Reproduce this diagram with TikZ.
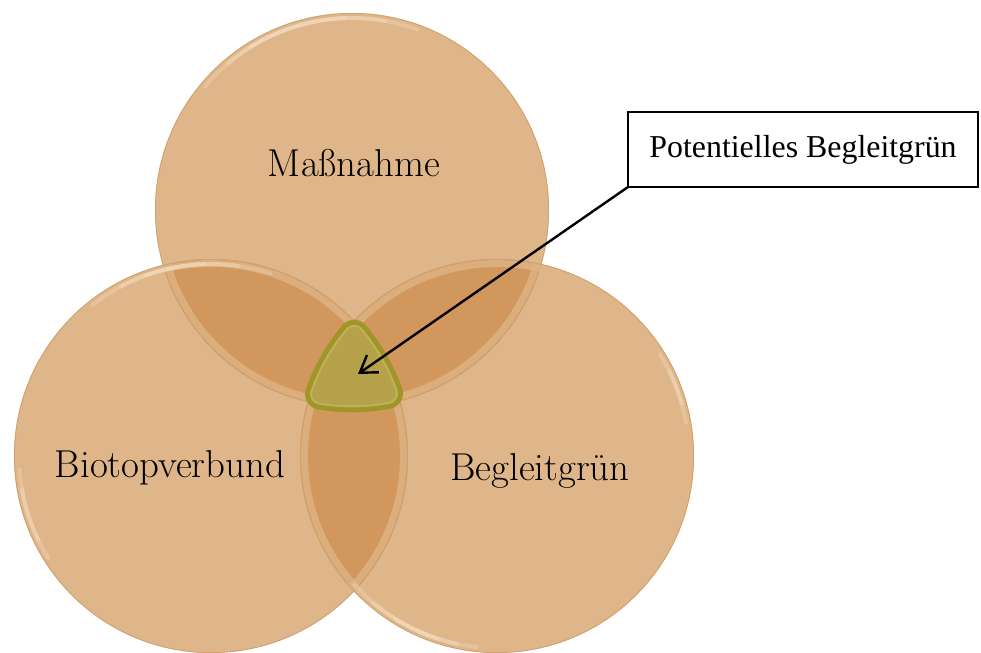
\documentclass[tikz,border=0pt]{standalone}
\usepackage{fontspec}
\newfontfamily\calloutfont{Liberation Serif}
\usetikzlibrary{arrows.meta}

\definecolor{circfill}{RGB}{223,182,138}
\definecolor{lensfill}{RGB}{210,151,92}
\definecolor{rimline}{RGB}{208,160,110}
\definecolor{gloss}{RGB}{255,244,222}
\definecolor{olivedark}{RGB}{160,150,40}
\definecolor{olivefill}{RGB}{182,162,74}
\definecolor{olivelight}{RGB}{192,178,92}

\tikzset{
  lbl/.style={font=\fontsize{39}{46}\selectfont, inner sep=0pt, text=black},
  callout/.style={draw=black, line width=1.5bp, fill=white, minimum width=350bp,
    minimum height=75bp, inner sep=0pt, outer sep=0pt,
    font=\calloutfont\fontsize{32}{38}\selectfont},
  pointer/.style={line width=2.4bp, -{Straight Barb[length=16bp, width=21bp, line width=2.4bp]}},
  rimband/.style={draw=circfill, draw opacity=0.75, line width=7bp},
  rimedge/.style={draw=rimline, line width=0.8bp},
  glossarc/.style={draw=gloss, line cap=round, line width=4bp, draw opacity=0.22}
}

% central region shrunk inwards; thick round-joined strokes grow it back with rounded corners
\def\corepath{(354,-335.5) arc[start angle=139.9, end angle=160.7, radius=187]
  arc[start angle=260.27, end angle=280.88, radius=187]
  arc[start angle=19.49, end angle=40.12, radius=187] -- cycle}

\begin{document}
\begin{tikzpicture}[x=1bp, y=1bp]
\useasboundingbox (0,0) rectangle (981,-653);
\clip (0,0) rectangle (981,-653);
\fill[white] (0,0) rectangle (981,-653);

\coordinate (cT) at (352,-210);
\coordinate (cL) at (211,-456);
\coordinate (cR) at (497,-456);

% the three circles
\foreach \c in {cT,cL,cR} \fill[circfill] (\c) circle[radius=197];

% pairwise overlaps
\begin{scope}
  \clip (cT) circle[radius=197];
  \fill[lensfill] (cL) circle[radius=197];
  \fill[lensfill] (cR) circle[radius=197];
\end{scope}
\begin{scope}
  \clip (cL) circle[radius=197];
  \fill[lensfill] (cR) circle[radius=197];
\end{scope}

% bevelled rims
\foreach \c in {cT,cL,cR} {
  \draw[rimband] (\c) circle[radius=192.5];
  \draw[rimedge] (\c) circle[radius=196.6];
}

% glossy highlights along the rims
\foreach \s/\e in {70/140, 80/130, 92/122} {
  \draw[glossarc] (cT) ++(\s:192) arc[start angle=\s, end angle=\e, radius=192];
}
\foreach \s/\e in {72/128, 82/118, 92/110} {
  \draw[glossarc] (cL) ++(\s:192) arc[start angle=\s, end angle=\e, radius=192];
}
\foreach \s/\e in {184/212, 190/206} {
  \draw[glossarc] (cL) ++(\s:192) arc[start angle=\s, end angle=\e, radius=192];
}
\foreach \s/\e in {222/264, 230/258, 238/252} {
  \draw[glossarc] (cR) ++(\s:192) arc[start angle=\s, end angle=\e, radius=192];
}
\foreach \s/\e in {10/32, 16/26} {
  \draw[glossarc] (cR) ++(\s:192) arc[start angle=\s, end angle=\e, radius=192];
}

% common part of all three circles
\path[fill=olivedark, draw=olivedark, line width=31bp, line join=round] \corepath;
\path[fill=olivelight, draw=olivelight, line width=21bp, line join=round] \corepath;
\path[fill=olivefill, draw=olivefill, line width=17bp, line join=round] \corepath;

% circle labels
\node[lbl, anchor=base] (mass) at (354,-177) {Maßnahme};
\node[lbl, anchor=base] (bio)  at (170,-477) {Biotopverbund};
\node[lbl, anchor=base] (beg)  at (540,-480) {Begleitgrün};

% callout
\node[callout] (pot) at (803,-149.5) {Potentielles Begleitgrün};
\coordinate (tip) at (358,-374);
\draw[pointer] (pot.south west) -- (tip);
\end{tikzpicture}
\end{document}
